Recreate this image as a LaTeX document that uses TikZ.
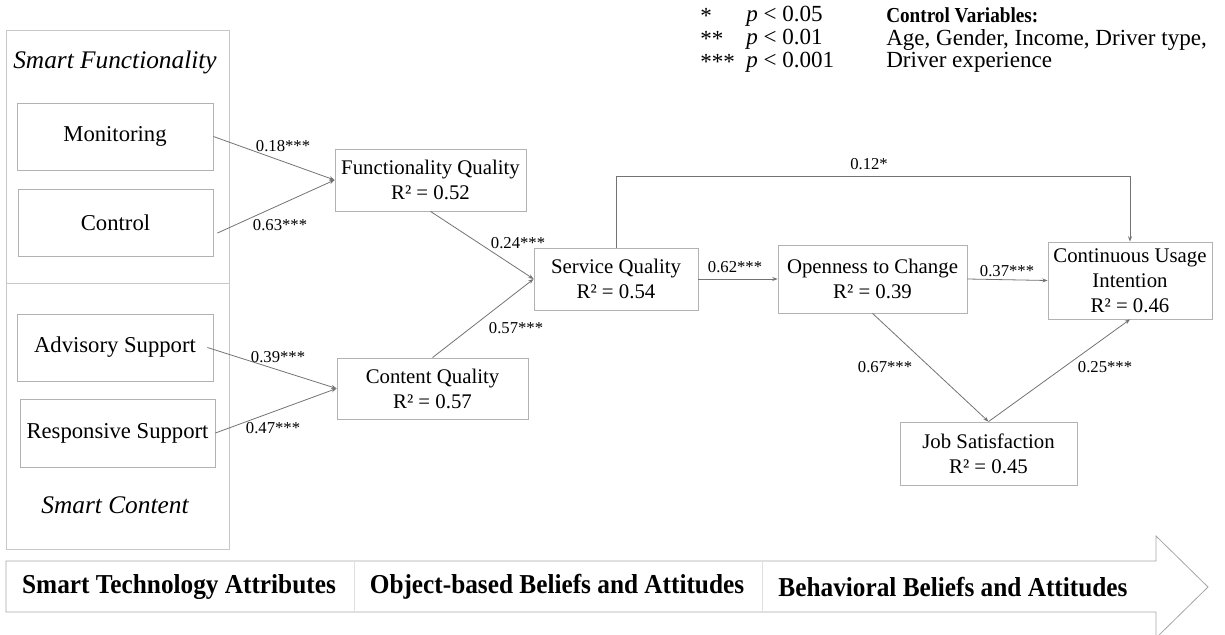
\documentclass[tikz,border=0pt]{standalone}
\usepackage{fontspec}
\setmainfont{Liberation Serif}
\usetikzlibrary{arrows.meta}
\begin{document}
\begin{tikzpicture}[x=0.75pt,y=-0.75pt,
  bx/.style 2 args={draw=black!30, line width=0.6pt, minimum width=#1*0.75pt, minimum height=#2*0.75pt, inner sep=0pt, align=center, font=\fontsize{15.6}{18.7}\selectfont},
  lbx/.style 2 args={bx={#1}{#2}, font=\fontsize{17}{20}\selectfont},
  conn/.style={draw=black!55, line width=0.6pt, -{Stealth[length=4pt,width=3pt]}},
  coef/.style={font=\fontsize{12.5}{14}\selectfont, inner sep=0pt},
  leg/.style={font=\fontsize{17.3}{20}\selectfont, inner sep=0pt, anchor=west},
  grp/.style={draw=black!22, line width=0.6pt},
  band/.style={font=\bfseries\fontsize{20.5}{24}\selectfont, inner sep=0pt},
]
\useasboundingbox (0,0) rectangle (1225,635);

% group frame
\draw[grp] (6,30) rectangle (229,549);
\draw[grp] (6,283) -- (229,283);
\node[font=\itshape\fontsize{19}{22}\selectfont, inner sep=0pt] (sfh) at (115,62) {Smart Functionality};
\node[font=\itshape\fontsize{19}{22}\selectfont, inner sep=0pt] (sch) at (115,505) {Smart Content};

% left boxes
\node[lbx={196}{67}] (mon) at (115,136.5) {Monitoring};
\node[lbx={195}{67}] (ctl) at (115.5,222.5) {Control};
\node[lbx={196}{67}] (adv) at (115,347.5) {Advisory Support};
\node[lbx={195}{68}] (rsp) at (117.5,433) {Responsive Support};

% middle boxes
\node[bx={191}{62}] (fq) at (430.5,180) {Functionality Quality\\R² = 0.52};
\node[bx={191}{61}] (cq) at (432.5,388.5) {Content Quality\\R² = 0.57};
\node[bx={164}{62}] (sq) at (616,279) {Service Quality\\R² = 0.54};
\node[bx={189}{68}] (oc) at (872.5,279) {Openness to Change\\R² = 0.39};
\node[bx={164}{77}] (cu) at (1130,280.5) {Continuous Usage\\Intention\\R² = 0.46};
\node[bx={177}{63}] (js) at (988.5,453.5) {Job Satisfaction\\R² = 0.45};

% connectors
\draw[conn] (mon.east) -- (fq.west);
\draw[conn] ([xshift=3pt,yshift=-7.9pt]ctl.east) -- (fq.west);
\draw[conn] ([xshift=-4.5pt]adv.east) -- (cq.west);
\draw[conn] (rsp.east) -- (cq.west);
\draw[conn] (fq.south) -- (sq.west);
\draw[conn] (cq.north) -- (sq.west);
\draw[conn] (sq.east) -- (oc.west);
\draw[conn] (oc.east) -- (cu.west);
\draw[conn] (sq.north) -- ++(0,-71) -| (cu.north);
\draw[conn] (oc.south) -- (js.north);
\draw[conn] (js.north) -- (cu.south);

% coefficients
\node[coef] at (283,146) {0.18***};
\node[coef] at (280,225) {0.63***};
\node[coef] at (278,357) {0.39***};
\node[coef] at (273,428) {0.47***};
\node[coef] at (518,243) {0.24***};
\node[coef] at (516,328) {0.57***};
\node[coef] at (735,267) {0.62***};
\node[coef] at (869,164) {0.12*};
\node[coef] at (1007,271) {0.37***};
\node[coef] at (885,367) {0.67***};
\node[coef] at (1105,367) {0.25***};

% legend
\node[leg] (s1) at (700,16) {*};
\node[leg] (s2) at (700,39) {**};
\node[leg] (s3) at (700,62) {***};
\node[leg] (p1) at (746,16) {\textit{p} < 0.05};
\node[leg] (p2) at (746,39) {\textit{p} < 0.01};
\node[leg] (p3) at (746,62) {\textit{p} < 0.001};
\node[leg, font=\bfseries\fontsize{16}{19}\selectfont] (cv) at (886,15.5) {\scalebox{0.9}[1]{Control Variables:}};
\node[leg] (cv1) at (886,39.5) {Age, Gender, Income, Driver type,};
\node[leg] (cv2) at (886,62) {Driver experience};

% bottom band arrow
\draw[grp, draw=black!35] (6,561) -- (1156,561) -- (1156,536) -- (1208,587) -- (1156,638) -- (1156,612) -- (6,612) -- cycle;
\draw[draw=black!12, line width=0.6pt] (354,561) -- (354,612);
\draw[draw=black!12, line width=0.6pt] (762,561) -- (762,612);
\node[band] (b1) at (179,587) {\scalebox{0.925}[1]{Smart Technology Attributes}};
\node[band] (b2) at (557,587) {\scalebox{0.925}[1]{Object-based Beliefs and Attitudes}};
\node[band] (b3) at (953,587) {\scalebox{0.925}[1]{Behavioral Beliefs and Attitudes}};
\end{tikzpicture}
\end{document}
